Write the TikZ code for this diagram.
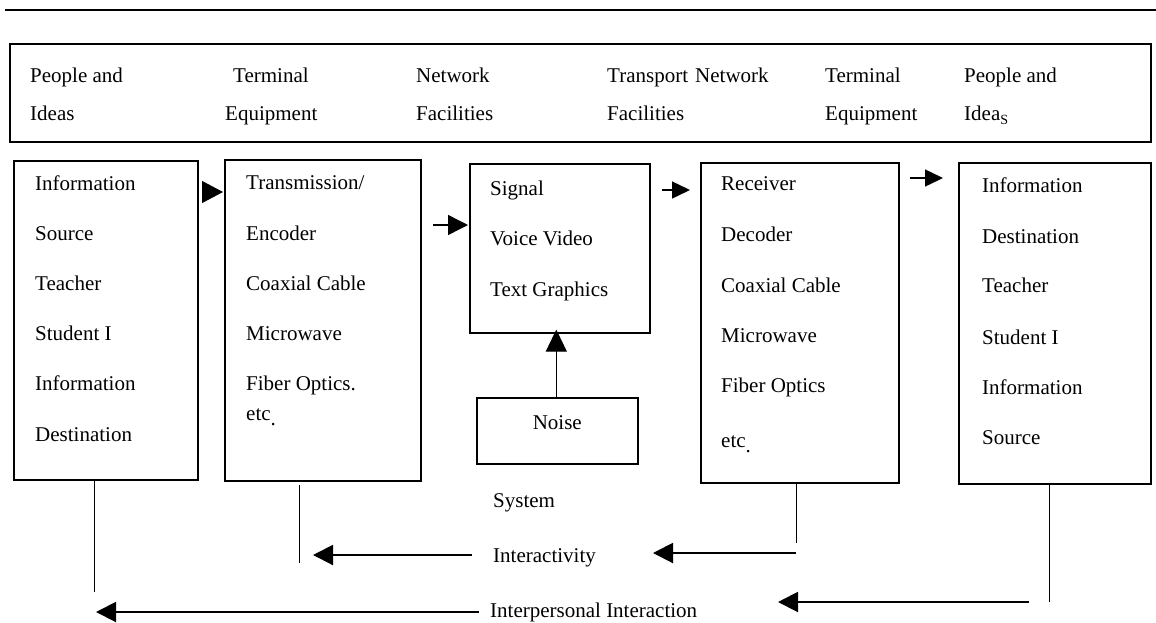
\documentclass[tikz,border=0pt]{standalone}
\usepackage{fontspec}
\setmainfont{Liberation Serif}
\usetikzlibrary{arrows.meta}
\begin{document}
\begin{tikzpicture}[x=1pt,y=-1pt,
  box/.style={draw,line width=1.6pt,anchor=north west,inner sep=0pt},
  txt/.style={anchor=base west,inner sep=0pt,font=\fontsize{21}{25}\selectfont},
  hd/.style={txt},
  arr/.style={line width=1.4pt,-{Triangle[length=20pt,width=20pt]}},
  sarr/.style={line width=1.4pt,-{Triangle[length=18pt,width=17pt]}},
  conn/.style={line width=0.9pt}]
\useasboundingbox (0,0) rectangle (1156,622);
% top rule
\coordinate (rl) at (5,10); \coordinate (rr) at (1156,10);
\draw[line width=1.5pt] (rl) -- (rr);
% header
\node[box,minimum width=1141pt,minimum height=98pt] (hdr) at (9,43) {};
\node[hd] (h1a) at (30,82) {People and};
\node[hd] (h1b) at (30,120) {Ideas};
\node[hd] (h2a) at (233,82) {Terminal};
\node[hd] (h2b) at (225,120) {Equipment};
\node[hd] (h3a) at (416,82) {Network};
\node[hd] (h3b) at (416,120) {Facilities};
\node[hd] (h4a) at (607,82) {Transport};
\node[hd] (h4c) at (695,82) {Network};
\node[hd] (h4b) at (607,120) {Facilities};
\node[hd] (h5a) at (825,82) {Terminal};
\node[hd] (h5b) at (825,120) {Equipment};
\node[hd] (h6a) at (964,82) {People and};
\node[hd] (h6b) at (964,120) {Idea\raisebox{-4pt}{\fontsize{14}{14}\selectfont S}};
% boxes
\node[box,minimum width=184pt,minimum height=319pt] (b1) at (13,160) {};
\node[box,minimum width=196pt,minimum height=321pt] (b2) at (224,159) {};
\node[box,minimum width=180pt,minimum height=169pt] (b3) at (469,163) {};
\node[box,minimum width=161pt,minimum height=66pt] (nz) at (476,397) {};
\node[box,minimum width=198pt,minimum height=320pt] (b4) at (700,162) {};
\node[box,minimum width=192pt,minimum height=321pt] (b5) at (958,162) {};
% box 1 text
\node[txt] (t11) at (35,190) {Information};
\node[txt] (t12) at (35,240) {Source};
\node[txt] (t13) at (35,290) {Teacher};
\node[txt] (t14) at (35,340) {Student I};
\node[txt] (t15) at (35,390) {Information};
\node[txt] (t16) at (35,441) {Destination};
% box 2 text
\node[txt] (t21) at (246,189) {Transmission/};
\node[txt] (t22) at (246,240) {Encoder};
\node[txt] (t23) at (246,290) {Coaxial Cable};
\node[txt] (t24) at (246,340) {Microwave};
\node[txt] (t25) at (246,390) {Fiber Optics.};
\node[txt] (t26) at (246,420) {etc\raisebox{-5pt}{.}};
% box 3 text
\node[txt] (t31) at (490,195) {Signal};
\node[txt] (t32) at (490,245) {Voice Video};
\node[txt] (t33) at (490,296) {Text Graphics};
% noise text
\node[txt,anchor=base] (tn) at (nz.center |- 0,429) {Noise};
% box 4 text
\node[txt] (t41) at (721,190) {Receiver};
\node[txt] (t42) at (721,241) {Decoder};
\node[txt] (t43) at (721,292) {Coaxial Cable};
\node[txt] (t44) at (721,342) {Microwave};
\node[txt] (t45) at (721,392) {Fiber Optics};
\node[txt] (t46) at (721,447) {etc\raisebox{-5pt}{.}};
% box 5 text
\node[txt] (t51) at (982,192) {Information};
\node[txt] (t52) at (982,243) {Destination};
\node[txt] (t53) at (982,292) {Teacher};
\node[txt] (t54) at (982,344) {Student I};
\node[txt] (t55) at (982,394) {Information};
\node[txt] (t56) at (982,444) {Source};
% top arrows
\draw[line width=1pt,-{Triangle[length=21pt,width=22pt]}] ([shift={(-22,33)}]b2.north west) -- ([shift={(-1,33)}]b2.north west);
\draw[arr] ([shift={(-36,62)}]b3.north west) -- ([shift={(-1,62)}]b3.north west);
\draw[sarr] ([shift={(-38,28)}]b4.north west) -- ([shift={(-10,28)}]b4.north west);
\draw[sarr] ([shift={(-48,16)}]b5.north west) -- ([shift={(-15,16)}]b5.north west);
% noise arrow
\draw[line width=1.2pt,-{Triangle[length=22pt,width=21pt]},shorten >=-4pt] ([xshift=-1pt]nz.north) -- ([xshift=-1pt]nz.north |- b3.south);
% bottom labels
\node[txt] (sys) at (493,507) {System};
\node[txt] (ity) at (493,562) {Interactivity};
\node[txt] (ipi) at (490,617) {Interpersonal Interaction};
% drop lines
\coordinate (d1) at (94,592);
\coordinate (d2a) at (299,485); \coordinate (d2) at (299,563);
\coordinate (d3) at (796,543);
\coordinate (d4) at (1049,602);
\draw[conn] (b1.south -| d1) -- (d1);
\draw[conn] (d2a) -- (d2);
\draw[conn] (b4.south -| d3) -- (d3);
\draw[conn] (b5.south -| d4) -- (d4);
% bottom arrows
\coordinate (e1s) at (472,555); \coordinate (e1e) at (313,555);
\coordinate (e2s) at (796,553); \coordinate (e2e) at (653,553);
\coordinate (e3s) at (479,612); \coordinate (e3e) at (96,612);
\coordinate (e4s) at (1029,602); \coordinate (e4e) at (778,602);
\draw[arr,line width=2pt] (e1s) -- (e1e);
\draw[arr,line width=2pt] (e2s) -- (e2e);
\draw[arr,line width=2pt] (e3s) -- (e3e);
\draw[arr,line width=2pt] (e4s) -- (e4e);
\end{tikzpicture}
\end{document}
